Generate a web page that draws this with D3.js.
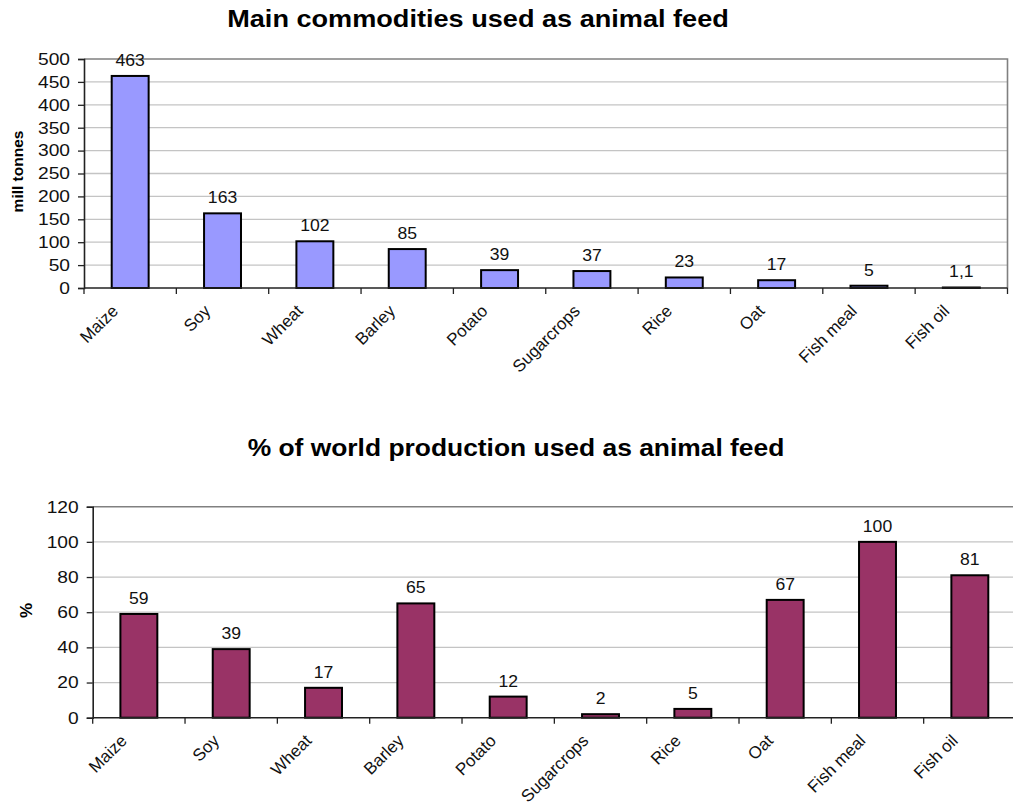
<!DOCTYPE html>
<html><head><meta charset="utf-8">
<script src="https://cdn.jsdelivr.net/npm/d3@7"></script>
<style>
body{margin:0;background:#fff;}
svg{display:block;font-family:"Liberation Sans",Arial,sans-serif;}
</style></head>
<body>
<svg id="c" width="1013" height="805"></svg>
<script>
const categories = ["Maize","Soy","Wheat","Barley","Potato","Sugarcrops","Rice","Oat","Fish meal","Fish oil"];
const tonnes = [463,163,102,85,39,37,23,17,5,1.1];
const tonnesLabels = ["463","163","102","85","39","37","23","17","5","1,1"];
const percent = [59,39,17,65,12,2,5,67,100,81];
const percentLabels = ["59","39","17","65","12","2","5","67","100","81"];
const tonnesTicks = [0,50,100,150,200,250,300,350,400,450,500];
const percentTicks = [0,20,40,60,80,100,120];

const svg = d3.select("#c");

function drawChart(cfg){
  const g = svg.append("g");
  const x = d3.scaleBand().domain(categories).range([cfg.left, cfg.right]).paddingInner(0).paddingOuter(0);
  const y = d3.scaleLinear().domain([0, cfg.max]).range([cfg.bottom, cfg.top]);
  // gridlines
  g.append("g").selectAll("line").data(cfg.ticks.filter(t=>t>0 && t<cfg.max)).join("line")
    .attr("x1", cfg.left).attr("x2", cfg.right)
    .attr("y1", d=>y(d)).attr("y2", d=>y(d))
    .attr("stroke","#c4c4c4").attr("stroke-width",1.3);
  // plot border top/right
  g.append("path").attr("d", `M${cfg.left},${y(cfg.max)}H${cfg.right}V${cfg.bottom}`)
    .attr("fill","none").attr("stroke","#808080").attr("stroke-width",1.6);
  // bars
  const bw = x.bandwidth()*0.4;
  g.append("g").selectAll("rect").data(cfg.values).join("rect")
    .attr("x",(d,i)=>x(categories[i]) + x.bandwidth()/2 - bw/2)
    .attr("width", bw)
    .attr("y", d=>y(d))
    .attr("height", d=>cfg.bottom - y(d))
    .attr("fill", cfg.color).attr("stroke","#000").attr("stroke-width",2);
  // value labels
  g.append("g").selectAll("text").data(cfg.values).join("text")
    .attr("transform",(d,i)=>`translate(${x(categories[i]) + x.bandwidth()/2},${y(d) - 10}) scale(1.1,1)`)
    .attr("text-anchor","middle").attr("font-size",16).attr("fill","#111")
    .text((d,i)=>cfg.labels[i]);
  // y axis
  const ya = g.append("g").attr("transform",`translate(${cfg.left},0)`)
    .call(d3.axisLeft(y).tickValues(cfg.ticks).tickSize(6).tickFormat(""));
  ya.select(".domain").attr("stroke","#222").attr("stroke-width",1.6);
  ya.selectAll(".tick line").attr("stroke","#222").attr("stroke-width",1.3);
  g.append("g").selectAll("text").data(cfg.ticks).join("text")
    .attr("transform", d=>`translate(${cfg.left-14},${y(d)+5.8}) scale(1.2,1)`)
    .attr("text-anchor","end").attr("font-size",16).attr("fill","#111")
    .text(d=>d3.format("d")(d));
  // x axis line + ticks between categories
  g.append("line").attr("x1",cfg.left).attr("x2",cfg.right).attr("y1",cfg.bottom).attr("y2",cfg.bottom)
    .attr("stroke","#222").attr("stroke-width",1.6);
  const bounds = categories.map(c=>x(c)).concat([cfg.right]);
  g.append("g").selectAll("line").data(bounds).join("line")
    .attr("x1",d=>d).attr("x2",d=>d).attr("y1",cfg.bottom).attr("y2",cfg.bottom+6)
    .attr("stroke","#222").attr("stroke-width",1.3);
  // x labels
  g.append("g").selectAll("text").data(categories).join("text")
    .attr("transform", d=>`translate(${x(d)+x.bandwidth()/2-11},${cfg.bottom+24}) rotate(-45)`)
    .attr("text-anchor","end").attr("font-size",17).attr("fill","#111")
    .text(d=>d);
  // title
  svg.append("text").attr("transform",`translate(${cfg.titleX},${cfg.titleY}) scale(${cfg.titleScale},1)`)
    .attr("text-anchor","middle")
    .attr("font-weight","bold").attr("font-size",24).attr("fill","#000").text(cfg.title);
  // y title
  svg.append("text").attr("transform",`translate(${cfg.ytX},${cfg.ytY}) rotate(-90)`)
    .attr("text-anchor","middle").attr("font-weight","bold").attr("font-size",cfg.ytSize).attr("fill","#000")
    .text(cfg.ytitle);
}

drawChart({values:tonnes, labels:tonnesLabels, ticks:tonnesTicks, max:500,
  left:84, right:1007.5, top:59, bottom:288, color:"#9999ff",
  title:"Main commodities used as animal feed", titleX:478, titleY:27, titleScale:1.13,
  ytitle:"mill tonnes", ytX:23, ytY:171.5, ytSize:15.5});

drawChart({values:percent, labels:percentLabels, ticks:percentTicks, max:120,
  left:92.7, right:1016, top:506.7, bottom:717.7, color:"#993366",
  title:"% of world production used as animal feed", titleX:516, titleY:456, titleScale:1.1,
  ytitle:"%", ytX:31.5, ytY:610.5, ytSize:17});
</script>
</body></html>
